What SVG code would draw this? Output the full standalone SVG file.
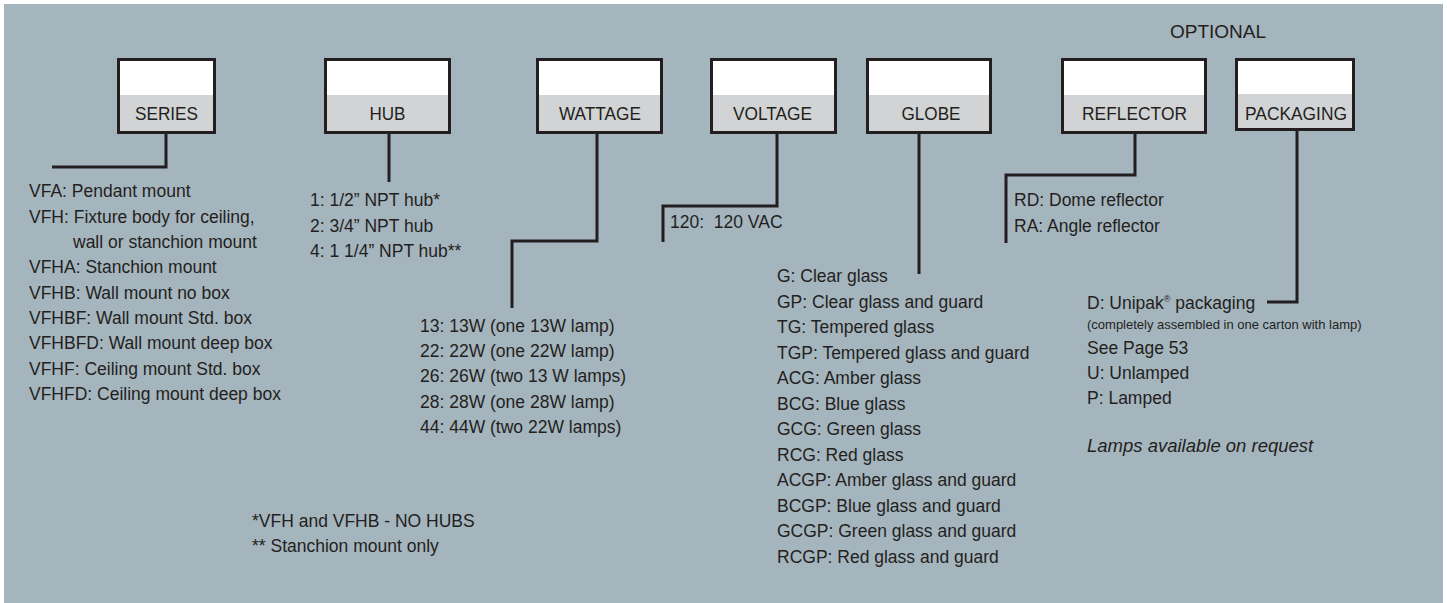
<svg xmlns="http://www.w3.org/2000/svg" width="1447" height="603" viewBox="0 0 1447 603">
<style>
text{font-family:"Liberation Sans",Arial,sans-serif;fill:#231f20}
.t{font-size:17.5px}
.lbl{font-size:19px;text-anchor:middle}
.sm{font-size:13px}
.it{font-style:italic}
.top{fill:#ffffff}
.bot{fill:#d1d3d4}
.frame{fill:none;stroke:#231f20;stroke-width:3}
.conn path{fill:none;stroke:#231f20;stroke-width:3}
</style>
<rect x="0" y="0" width="1447" height="603" fill="#ffffff"/>
<rect x="4" y="4" width="1439" height="599" fill="#a5b5be"/>
<text class="t" x="1170" y="38" style="font-size:19px">OPTIONAL</text>

<g id="series">
<rect class="top" x="118.5" y="59.5" width="96" height="73"/>
<rect class="bot" x="118.5" y="95" width="96" height="37.5"/>
<rect class="frame" x="118.5" y="59.5" width="96" height="73"/>
<text class="lbl" x="166.5" y="120" textLength="63" lengthAdjust="spacingAndGlyphs">SERIES</text>
</g>
<g id="hub">
<rect class="top" x="325.5" y="59.5" width="124" height="73"/>
<rect class="bot" x="325.5" y="95" width="124" height="37.5"/>
<rect class="frame" x="325.5" y="59.5" width="124" height="73"/>
<text class="lbl" x="387.5" y="120" textLength="36" lengthAdjust="spacingAndGlyphs">HUB</text>
</g>
<g id="wattage">
<rect class="top" x="537.5" y="59.5" width="124" height="73"/>
<rect class="bot" x="537.5" y="95" width="124" height="37.5"/>
<rect class="frame" x="537.5" y="59.5" width="124" height="73"/>
<text class="lbl" x="600" y="120" textLength="82" lengthAdjust="spacingAndGlyphs">WATTAGE</text>
</g>
<g id="voltage">
<rect class="top" x="711.5" y="59.5" width="124" height="73"/>
<rect class="bot" x="711.5" y="95" width="124" height="37.5"/>
<rect class="frame" x="711.5" y="59.5" width="124" height="73"/>
<text class="lbl" x="772.5" y="120" textLength="79" lengthAdjust="spacingAndGlyphs">VOLTAGE</text>
</g>
<g id="globe">
<rect class="top" x="867.5" y="59.5" width="123" height="73"/>
<rect class="bot" x="867.5" y="95" width="123" height="37.5"/>
<rect class="frame" x="867.5" y="59.5" width="123" height="73"/>
<text class="lbl" x="931" y="120" textLength="59" lengthAdjust="spacingAndGlyphs">GLOBE</text>
</g>
<g id="reflector">
<rect class="top" x="1062.5" y="59.5" width="143" height="73"/>
<rect class="bot" x="1062.5" y="95" width="143" height="37.5"/>
<rect class="frame" x="1062.5" y="59.5" width="143" height="73"/>
<text class="lbl" x="1134.5" y="120" textLength="105" lengthAdjust="spacingAndGlyphs">REFLECTOR</text>
</g>
<g id="packaging">
<rect class="top" x="1236.5" y="59.5" width="117" height="70"/>
<rect class="bot" x="1236.5" y="94" width="117" height="35.5"/>
<rect class="frame" x="1236.5" y="59.5" width="117" height="70"/>
<text class="lbl" x="1296" y="120" textLength="102" lengthAdjust="spacingAndGlyphs">PACKAGING</text>
</g>

<g class="conn" id="connectors">
<path d="M166,134 V167 H52"/>
<path d="M389,134 V182"/>
<path d="M597,134 V241 H512 V308"/>
<path d="M777,134 V206 H663 V242"/>
<path d="M919,134 V274"/>
<path d="M1135,134 V175 H1006 V243"/>
<path d="M1297,131 V302 H1267"/>
</g>

<g id="series-options">
<text class="t" x="29" y="197">VFA: Pendant mount</text>
<text class="t" x="29" y="222.5">VFH: Fixture body for ceiling,</text>
<text class="t" x="73" y="248">wall or stanchion mount</text>
<text class="t" x="29" y="273">VFHA: Stanchion mount</text>
<text class="t" x="29" y="298.5">VFHB: Wall mount no box</text>
<text class="t" x="29" y="324">VFHBF: Wall mount Std. box</text>
<text class="t" x="29" y="349">VFHBFD: Wall mount deep box</text>
<text class="t" x="29" y="374.5">VFHF: Ceiling mount Std. box</text>
<text class="t" x="29" y="400">VFHFD: Ceiling mount deep box</text>
</g>
<g id="hub-options">
<text class="t" x="310" y="206">1: 1/2” NPT hub*</text>
<text class="t" x="310" y="231.5">2: 3/4” NPT hub</text>
<text class="t" x="310" y="257">4: 1 1/4” NPT hub**</text>
</g>
<g id="wattage-options">
<text class="t" x="420" y="332">13: 13W (one 13W lamp)</text>
<text class="t" x="420" y="357">22: 22W (one 22W lamp)</text>
<text class="t" x="420" y="382">26: 26W (two 13 W lamps)</text>
<text class="t" x="420" y="407.5">28: 28W (one 28W lamp)</text>
<text class="t" x="420" y="433">44: 44W (two 22W lamps)</text>
</g>
<g id="voltage-options">
<text class="t" x="670" y="228" style="white-space:pre">120:  120 VAC</text>
</g>
<g id="globe-options">
<text class="t" x="777" y="282">G: Clear glass</text>
<text class="t" x="777" y="307.5">GP: Clear glass and guard</text>
<text class="t" x="777" y="333">TG: Tempered glass</text>
<text class="t" x="777" y="358.5">TGP: Tempered glass and guard</text>
<text class="t" x="777" y="384">ACG: Amber glass</text>
<text class="t" x="777" y="409.5">BCG: Blue glass</text>
<text class="t" x="777" y="435">GCG: Green glass</text>
<text class="t" x="777" y="460.5">RCG: Red glass</text>
<text class="t" x="777" y="486">ACGP: Amber glass and guard</text>
<text class="t" x="777" y="511.5">BCGP: Blue glass and guard</text>
<text class="t" x="777" y="537">GCGP: Green glass and guard</text>
<text class="t" x="777" y="562.5">RCGP: Red glass and guard</text>
</g>
<g id="reflector-options">
<text class="t" x="1014" y="206">RD: Dome reflector</text>
<text class="t" x="1014" y="232">RA: Angle reflector</text>
</g>
<g id="packaging-options">
<text class="t" x="1087" y="309">D: Unipak<tspan style="font-size:9px" dy="-7">®</tspan><tspan dy="7"> packaging</tspan></text>
<text class="sm" x="1087" y="329">(completely assembled in one carton with lamp)</text>
<text class="t" x="1087" y="354">See Page 53</text>
<text class="t" x="1087" y="379">U: Unlamped</text>
<text class="t" x="1087" y="404">P: Lamped</text>
<text class="t it" x="1087" y="452" style="font-size:18.5px">Lamps available on request</text>
</g>
<g id="footnotes">
<text class="t" x="252" y="527">*VFH and VFHB - NO HUBS</text>
<text class="t" x="252" y="552">** Stanchion mount only</text>
</g>
</svg>
